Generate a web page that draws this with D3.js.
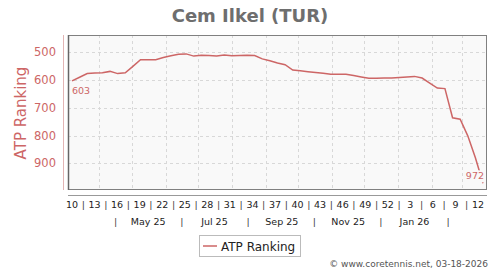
<!DOCTYPE html>
<html><head><meta charset="utf-8">
<script src="https://cdn.jsdelivr.net/npm/d3@7"></script>
<style>
html,body{margin:0;padding:0;background:#fff;}
svg{display:block;font-family:"DejaVu Sans",sans-serif;}
</style></head>
<body>
<svg id="c" width="500" height="270"></svg>
<script>
// ---- data ----
const title = "Cem Ilkel (TUR)";
const seriesName = "ATP Ranking";
const startDate = "2025-03-07";      // first weekly ranking point
const ranks = [603,590,577,575,574,569,577,574,551,527,
               527,527,519,513,507,506,514,511,512,514,
               510,513,512,511,512,524,531,539,545,564,
               567,570,573,576,579,579,579,584,589,594,
               594,593,593,591,589,587,593,611,629,631,
               736,741,801,880,972];
const yTicks = [500,600,700,800,900];
const weekLabels = ["10","13","16","19","22","25","28","31","34","37","40","43","46","49","52","3","6","9","12"];
const monthLabels = ["May 25","Jul 25","Sep 25","Nov 25","Jan 26"];
const credit = "\u00a9 www.coretennis.net, 03-18-2026";

// ---- layout ----
const svg = d3.select("#c");
const P = {l:68, r:487, t:35, b:190};
const red = "#cd6666";
const parse = d3.timeParse("%Y-%m-%d");
const d0 = parse(startDate);
const pts = ranks.map((v,i)=>({date:d3.timeDay.offset(d0, 7*i), v}));
const x = d3.scaleTime().domain([pts[0].date, pts[pts.length-1].date]).range([72, 483]);
const y = d3.scaleLinear().domain([438, 996]).range([P.t, P.b]);

// title
svg.append("text").attr("x",250).attr("y",22).attr("text-anchor","middle")
  .attr("font-size",18).attr("font-weight","bold").attr("fill","#6e6e6e").text(title);

// plot bg
svg.append("rect").attr("x",P.l).attr("y",P.t).attr("width",P.r-P.l).attr("height",P.b-P.t)
  .attr("fill","#f9f9f9");

// grid
const months = d3.timeMonth.range(d3.timeMonth.ceil(x.domain()[0]), x.domain()[1]);
svg.append("g").selectAll("line").data(months).join("line")
  .attr("x1",d=>Math.round(x(d))+0.5).attr("x2",d=>Math.round(x(d))+0.5)
  .attr("y1",P.t).attr("y2",P.b)
  .attr("stroke","#d8d8d8").attr("stroke-dasharray","3,3");
svg.append("g").selectAll("line").data(yTicks).join("line")
  .attr("x1",P.l).attr("x2",P.r)
  .attr("y1",d=>Math.round(y(d))+0.5).attr("y2",d=>Math.round(y(d))+0.5)
  .attr("stroke","#d8d8d8").attr("stroke-dasharray","3,3");

// frame
svg.append("rect").attr("x",P.l+0.5).attr("y",P.t+0.5).attr("width",P.r-P.l-1).attr("height",P.b-P.t-1)
  .attr("fill","none").attr("stroke","#808080");
svg.append("line").attr("x1",P.l+0.5).attr("x2",P.l+0.5).attr("y1",P.t).attr("y2",P.b)
  .attr("stroke","#666").attr("stroke-width",1.5);

// y axis
svg.append("line").attr("x1",63.5).attr("x2",63.5).attr("y1",P.t).attr("y2",P.b)
  .attr("stroke","#e2b4b4");
svg.append("g").selectAll("text").data(yTicks).join("text")
  .attr("x",56).attr("y",d=>y(d)+4).attr("text-anchor","end")
  .attr("font-size",11.5).attr("fill",red).text(d=>d);
svg.append("text").attr("transform","translate(26,113) rotate(-90)")
  .attr("text-anchor","middle").attr("font-size",15).attr("fill",red).text(seriesName);

// x axis line
svg.append("line").attr("x1",P.l).attr("x2",P.r).attr("y1",195.5).attr("y2",195.5)
  .attr("stroke","#999");

// week label row
const xw = d3.scalePoint().domain(weekLabels).range([72, 478]);
svg.append("g").selectAll("text").data(weekLabels).join("text")
  .attr("x",d=>xw(d)).attr("y",208).attr("text-anchor","middle")
  .attr("font-size",9.5).attr("fill","#222").text(d=>d);
svg.append("g").selectAll("text").data(weekLabels.slice(1)).join("text")
  .attr("x",d=>xw(d)-xw.step()/2).attr("y",208).attr("text-anchor","middle")
  .attr("font-size",9.5).attr("fill","#444").text("|");

// month label row: ticks mid-month, full months inside the range only
const midMonths = d3.timeMonth.range(d3.timeMonth.ceil(x.domain()[0]), d3.timeMonth.floor(x.domain()[1]))
  .map(m=>d3.timeDay.offset(m,15));
const labelled = midMonths.filter(d=>d.getMonth()%2===0);
const seps = midMonths.filter(d=>d.getMonth()%2===1);
svg.append("g").selectAll("text").data(labelled).join("text")
  .attr("x",d=>x(d)).attr("y",225).attr("text-anchor","middle")
  .attr("font-size",9.5).attr("fill","#222").text((d,i)=>monthLabels[i]);
svg.append("g").selectAll("text").data(seps).join("text")
  .attr("x",d=>x(d)).attr("y",225).attr("text-anchor","middle")
  .attr("font-size",9.5).attr("fill","#444").text("|");

// line
svg.append("clipPath").attr("id","clipP").append("rect")
  .attr("x",P.l).attr("y",P.t).attr("width",P.r-P.l).attr("height",P.b-P.t);
svg.append("path").datum(pts).attr("clip-path","url(#clipP)")
  .attr("d",d3.line().x(d=>x(d.date)).y(d=>y(d.v)))
  .attr("fill","none").attr("stroke",red).attr("stroke-width",1.5);

// end labels
const first = pts[0], last = pts[pts.length-1];
svg.append("text").attr("x",x(first.date)).attr("y",y(first.v)+13)
  .attr("font-size",9.5).attr("fill",red).text(first.v);
const lb = svg.append("g");
const lt = lb.append("text").attr("x",x(last.date)+1).attr("y",y(last.v)-4)
  .attr("text-anchor","end").attr("font-size",9.5).attr("fill",red).text(last.v);
const bb = lt.node().getBBox();
lb.insert("rect","text").attr("x",bb.x-1).attr("y",bb.y).attr("width",bb.width+2).attr("height",bb.height+1)
  .attr("fill","#f9f9f9");

// legend
svg.append("rect").attr("x",199.5).attr("y",235.5).attr("width",101).attr("height",21)
  .attr("fill","#fff").attr("stroke","#bbb");
svg.append("line").attr("x1",203).attr("x2",217).attr("y1",246).attr("y2",246)
  .attr("stroke",red).attr("stroke-width",1.5);
svg.append("text").attr("x",221).attr("y",250.5).attr("font-size",12).attr("fill","#222").text(seriesName);

// credit
svg.append("text").attr("x",488).attr("y",267).attr("text-anchor","end")
  .attr("font-size",9).attr("fill","#555").text(credit);
</script>
</body></html>
